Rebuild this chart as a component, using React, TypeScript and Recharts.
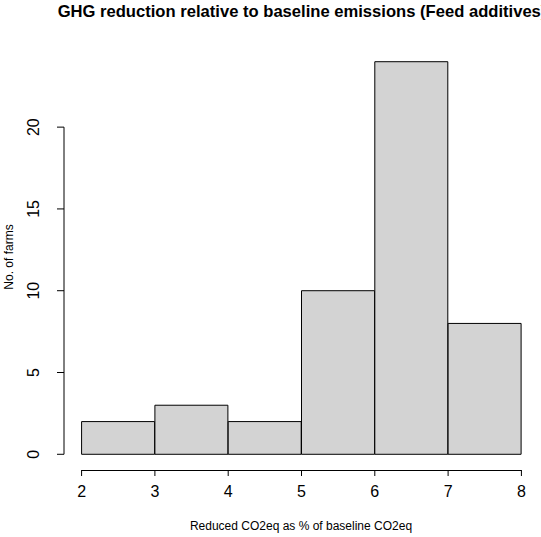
import React from 'react';
import { BarChart, Bar, XAxis, YAxis, ReferenceLine } from 'recharts';

// histogram bins (left edge, right edge) and the number of farms in each
const binStarts = [2, 3, 4, 5, 6, 7];
const binEnds = [3, 4, 5, 6, 7, 8];
const farmCounts = [2, 3, 2, 10, 24, 8];

const xTicks = [2, 3, 4, 5, 6, 7, 8];
const yTicks = [0, 5, 10, 15, 20];

const chartData = binStarts.map((start, i) => ({
  bin: `${start}-${binEnds[i]}`,
  mid: (start + binEnds[i]) / 2,
  count: farmCounts[i],
}));

// R pads the plot region 4% on each side of the data range
const xMin = binStarts[0];
const xMax = binEnds[binEnds.length - 1];
const xExt = (xMax - xMin) * 0.04;
const yMax = Math.max(...farmCounts);
const yExt = yMax * 0.04;
const xDomain = [xMin - xExt, xMax + xExt];
const yDomain = [-yExt, yMax + yExt];

const W = 541;
const H = 537;
const margin = { top: 46, right: 2, bottom: 27, left: 0 };
const yAxisWidth = 64;
const xAxisHeight = 40;
const plotLeft = margin.left + yAxisWidth;
const plotBottom = H - margin.bottom - xAxisHeight;
const plotW = W - margin.left - margin.right - yAxisWidth;
const pxPerUnit = plotW / (xDomain[1] - xDomain[0]);
const binPad = pxPerUnit * xExt;
const xTickSize = 6;
const xTickMargin = 10;

const font = '"Liberation Sans", Arial, sans-serif';

// R's x axis line runs from the first tick to the last, at the bottom of the plot region
const axisLineX1 = plotLeft + (xTicks[0] - xDomain[0]) * pxPerUnit;
const axisLineX2 = plotLeft + (xTicks[xTicks.length - 1] - xDomain[0]) * pxPerUnit;

const YTick = ({ x, y, payload, index }: any) => (
  <g>
    {index === 0 && (
      <path d={`M${axisLineX1},${plotBottom + 0.5}H${axisLineX2}`} stroke="#000" strokeWidth={1} fill="none" />
    )}
    <text
      x={x}
      y={y}
      transform={`rotate(-90, ${x}, ${y})`}
      textAnchor="middle"
      fontSize={16}
      fontFamily={font}
      fill="#000"
    >
      {payload.value}
    </text>
  </g>
);

const XTick = ({ x, y, payload }: any) => (
  <text x={x} y={y} dy="0.71em" textAnchor="middle" fontSize={16} fontFamily={font} fill="#000">
    {payload.value}
  </text>
);

const App = () => {
  return (
    <div style={{ position: 'absolute', left: 0, top: 0, width: W, height: H, overflow: 'hidden', background: '#fff', fontFamily: font }}>
      <div
        style={{
          position: 'absolute',
          top: 2,
          left: 302,
          transform: 'translateX(-50%)',
          whiteSpace: 'nowrap',
          fontWeight: 'bold',
          fontSize: 16.6,
          color: '#000',
        }}
      >
        GHG reduction relative to baseline emissions (Feed additives)
      </div>
      <div
        style={{
          position: 'absolute',
          top: 519,
          left: 301,
          transform: 'translateX(-50%)',
          whiteSpace: 'nowrap',
          fontSize: 12,
          color: '#000',
        }}
      >
        Reduced CO2eq as % of baseline CO2eq
      </div>
      <div
        style={{
          position: 'absolute',
          top: 257,
          left: 9,
          transform: 'translate(-50%, -50%) rotate(-90deg)',
          whiteSpace: 'nowrap',
          fontSize: 12,
          color: '#000',
        }}
      >
        No. of farms
      </div>
      <BarChart width={W} height={H} data={chartData} margin={margin} barCategoryGap={0} barGap={0}>
        <XAxis
          xAxisId="num"
          dataKey="mid"
          type="number"
          domain={xDomain}
          allowDataOverflow
          ticks={xTicks}
          interval={0}
          height={xAxisHeight}
          axisLine={false}
          tickSize={xTickSize}
          tickMargin={xTickMargin}
          tickLine={{ stroke: '#000' }}
          tick={<XTick />}
        />
        <XAxis xAxisId="bin" dataKey="bin" type="category" hide height={0} padding={{ left: binPad, right: binPad }} />
        <YAxis
          type="number"
          domain={yDomain}
          allowDataOverflow
          ticks={yTicks}
          interval={0}
          width={yAxisWidth}
          axisLine={false}
          tickSize={7}
          tickMargin={18}
          tickLine={{ stroke: '#000' }}
          tick={<YTick />}
        />
        <Bar dataKey="count" xAxisId="bin" fill="#d3d3d3" stroke="#000" strokeWidth={1} isAnimationActive={false} />
        <ReferenceLine
          xAxisId="num"
          segment={[{ x: xDomain[0], y: yTicks[0] }, { x: xDomain[0], y: yTicks[yTicks.length - 1] }]}
          stroke="#000"
          ifOverflow="visible"
        />
      </BarChart>
    </div>
  );
};

export default App;
